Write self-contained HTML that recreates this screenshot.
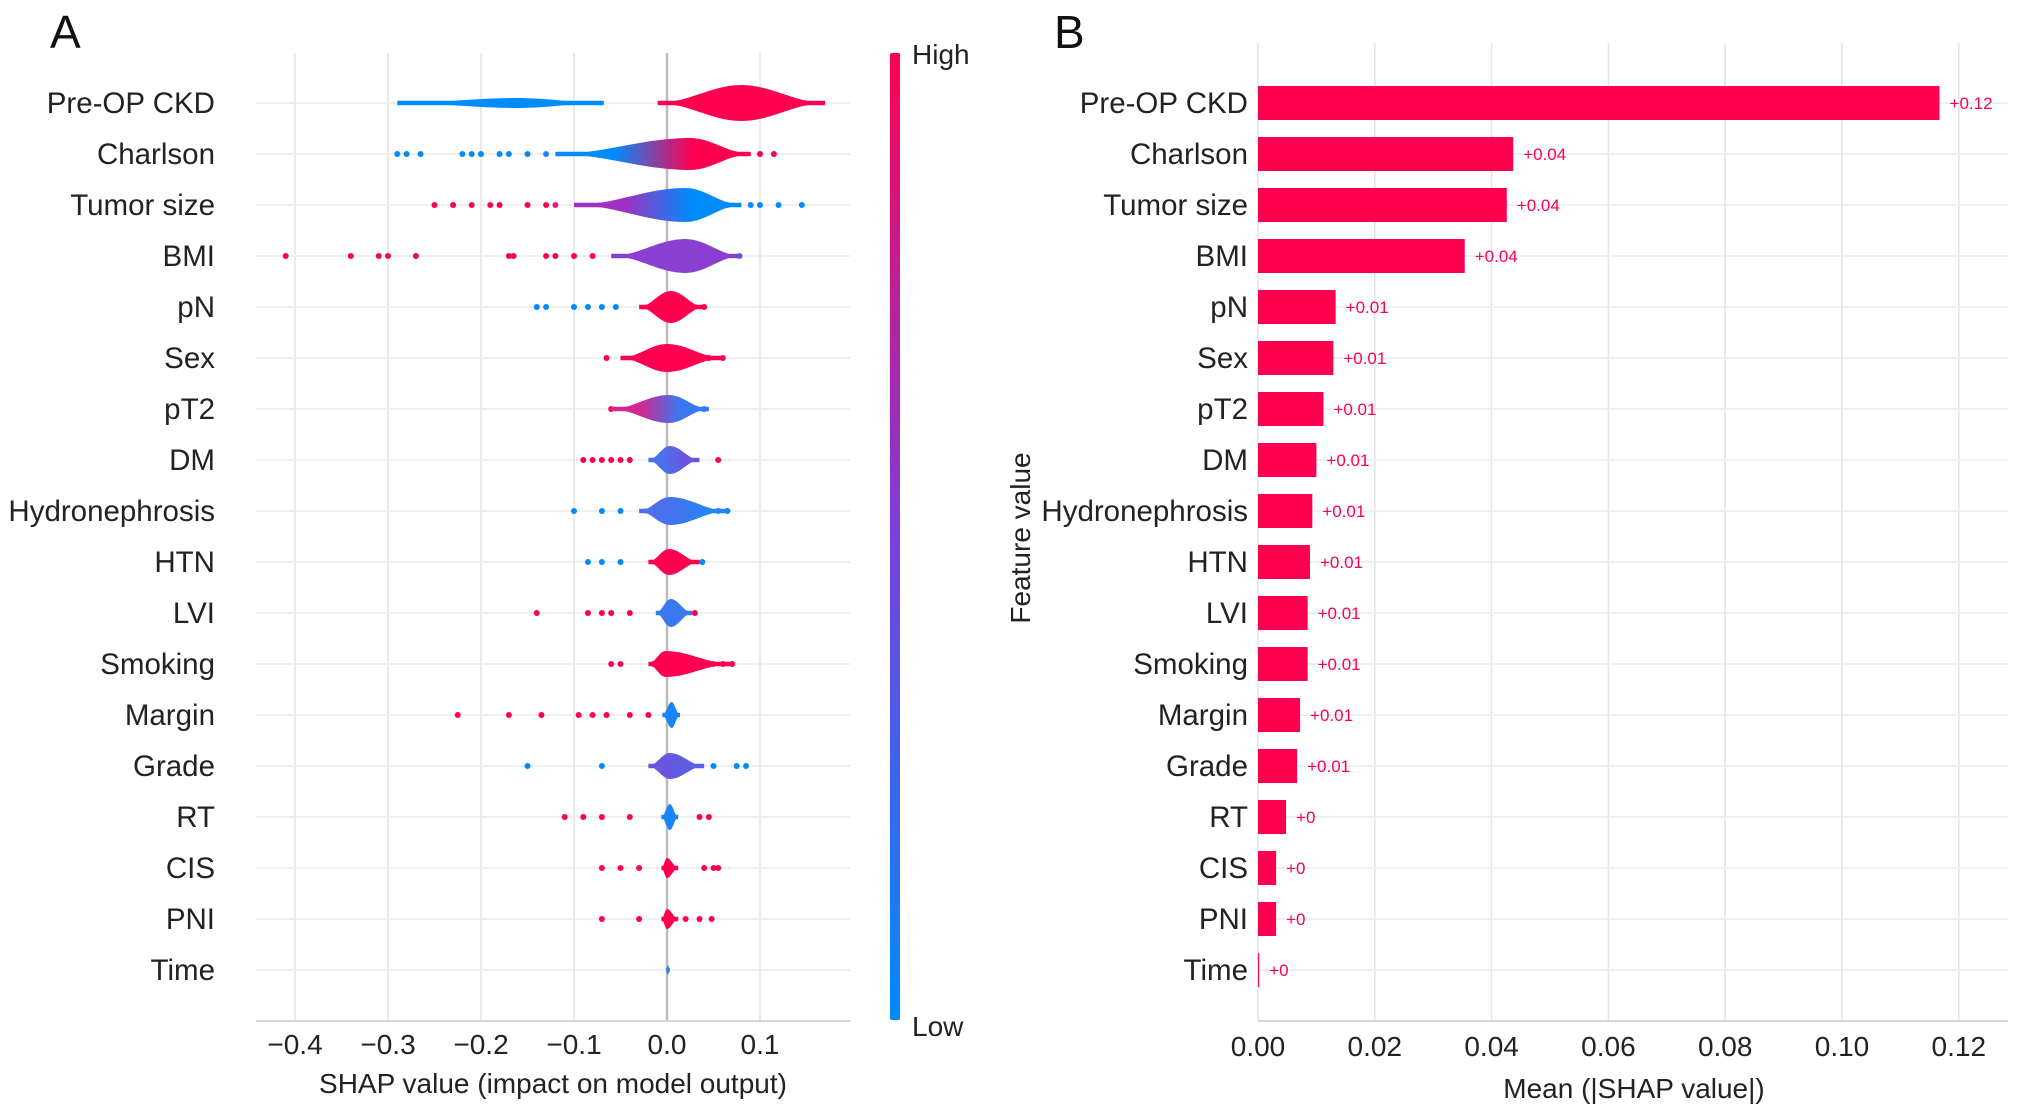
<!DOCTYPE html>
<html><head><meta charset="utf-8">
<style>
html,body{margin:0;padding:0;background:#fff;}
svg{display:block;font-family:"Liberation Sans",sans-serif;}
</style></head>
<body>
<svg id="fig" width="2032" height="1118" viewBox="0 0 2032 1118" xmlns="http://www.w3.org/2000/svg">
<defs>
<linearGradient id="cbar" x1="0" y1="1" x2="0" y2="0">
<stop offset="0" stop-color="#008bfb"/><stop offset="0.5" stop-color="#7a3fdc"/><stop offset="1" stop-color="#ff0051"/>
</linearGradient>
</defs>
<g id="panelA"></g>
<g id="panelB"></g>
</svg>
<script>
const features = ["Pre-OP CKD","Charlson","Tumor size","BMI","pN","Sex","pT2","DM","Hydronephrosis","HTN","LVI","Smoking","Margin","Grade","RT","CIS","PNI","Time"];
const violinLo   = [-0.01,-0.12,-0.10,-0.06,-0.03,-0.05,-0.06,-0.02,-0.03,-0.02,-0.012,-0.02,-0.005,-0.02,-0.006,-0.006,-0.006,-0.001];
const violinPeak = [0.08,0.025,0.02,0.02,0.004,0.0,0.002,0.003,0.003,0.002,0.004,-0.002,0.005,0.003,0.003,0.0,0.0,0.001];
const violinHi   = [0.17,0.09,0.08,0.08,0.04,0.06,0.045,0.035,0.065,0.035,0.027,0.07,0.014,0.04,0.012,0.012,0.012,0.003];
const violinDens = [18,16,17,17,16,14,14,14,14,13,14,13,13,13,13,10,10,5];
const violinColL = ["#ff0051","#008bfb","#a030c0","#8a3fd0","#ff0051","#ff0051","#d02890","#4a70ec","#4a70ec","#ff0051","#3a78f0","#ff0051","#1a85f8","#6a55de","#1a85f8","#ff0051","#ff0051","#3a78f0"];
const violinColR = ["#ff0051","#ff0051","#008bfb","#8a3fd0","#ff0051","#ff0051","#3a78f0","#6a55de","#2a80f5","#ff0051","#3a78f0","#ff0051","#1a85f8","#5a60e4","#1a85f8","#ff0051","#ff0051","#3a78f0"];
const ckdBlueLo = -0.29, ckdBluePeak = -0.16, ckdBlueHi = -0.068, ckdBlueDens = 5;
const dotFeature = [1,1,1,1,1,1,1,1,1,1,1,1, 2,2,2,2,2,2,2,2,2,2,2,2, 3,3,3,3,3,3,3,3,3,3,3,3, 4,4,4,4,4,4,4, 5,5,5,5, 6,6,6, 7,7,7,7,7,7,7, 8,8,8,8,8,8, 9,9,9,9, 10,10,10,10,10,10, 11,11,11,11,11, 12,12,12,12,12,12,12,12, 13,13,13,13,13, 14,14,14,14,14,14, 15,15,15,15,15,15, 16,16,16,16,16];
const dotValue = [-0.29,-0.28,-0.265,-0.22,-0.21,-0.2,-0.18,-0.17,-0.15,-0.13,0.1,0.115, -0.25,-0.23,-0.21,-0.19,-0.18,-0.15,-0.13,-0.12,0.09,0.1,0.12,0.145, -0.41,-0.34,-0.31,-0.3,-0.27,-0.17,-0.165,-0.13,-0.12,-0.1,-0.08,0.078, -0.14,-0.13,-0.1,-0.085,-0.07,-0.055,0.04, -0.065,0.035,0.045,0.06, -0.06,-0.04,0.04, -0.09,-0.08,-0.07,-0.06,-0.05,-0.04,0.055, -0.1,-0.07,-0.05,0.045,0.055,0.065, -0.085,-0.07,-0.05,0.038, -0.14,-0.085,-0.07,-0.06,-0.04,0.03, -0.06,-0.05,0.05,0.06,0.07, -0.225,-0.17,-0.135,-0.095,-0.08,-0.065,-0.04,-0.02, -0.15,-0.07,0.05,0.075,0.085, -0.11,-0.09,-0.07,-0.04,0.035,0.045, -0.07,-0.05,-0.03,0.04,0.05,0.055, -0.07,-0.03,0.02,0.035,0.048];
const dotColor = ["#008bfb","#008bfb","#008bfb","#008bfb","#008bfb","#008bfb","#008bfb","#008bfb","#008bfb","#2a7ef5","#ff0051","#ff0051", "#ff0051","#ff0051","#ff0051","#ff0051","#ff0051","#ff0051","#ff0051","#e0207a","#008bfb","#008bfb","#008bfb","#008bfb", "#ff0051","#ff0051","#ff0051","#ff0051","#ff0051","#ff0051","#ff0051","#ff0051","#ff0051","#ff0051","#ff0051","#008bfb", "#008bfb","#008bfb","#008bfb","#008bfb","#008bfb","#008bfb","#ff0051", "#ff0051","#ff0051","#ff0051","#ff0051", "#ff0051","#ff0051","#008bfb", "#ff0051","#ff0051","#ff0051","#ff0051","#ff0051","#ff0051","#ff0051", "#008bfb","#008bfb","#008bfb","#008bfb","#008bfb","#008bfb", "#008bfb","#008bfb","#008bfb","#008bfb", "#ff0051","#ff0051","#ff0051","#ff0051","#ff0051","#ff0051", "#ff0051","#ff0051","#ff0051","#ff0051","#ff0051", "#ff0051","#ff0051","#ff0051","#ff0051","#ff0051","#ff0051","#ff0051","#ff0051", "#008bfb","#008bfb","#008bfb","#008bfb","#008bfb", "#ff0051","#ff0051","#ff0051","#ff0051","#ff0051","#ff0051", "#ff0051","#ff0051","#ff0051","#ff0051","#ff0051","#ff0051", "#ff0051","#ff0051","#ff0051","#ff0051","#ff0051"];
const aTicks = [-0.4,-0.3,-0.2,-0.1,0.0,0.1];
const aTickLabels = ["\u22120.4","\u22120.3","\u22120.2","\u22120.1","0.0","0.1"];
const meanShap = [0.1167,0.0437,0.0426,0.0354,0.0133,0.0129,0.0112,0.0100,0.0093,0.0089,0.0085,0.0085,0.0072,0.0067,0.0048,0.0031,0.0031,0.0002];
const meanLabels = ["+0.12","+0.04","+0.04","+0.04","+0.01","+0.01","+0.01","+0.01","+0.01","+0.01","+0.01","+0.01","+0.01","+0.01","+0","+0","+0","+0"];
const bTicks = [0,0.02,0.04,0.06,0.08,0.10,0.12];
const bTickLabels = ["0.00","0.02","0.04","0.06","0.08","0.10","0.12"];

const NS="http://www.w3.org/2000/svg";
function mk(parent,tag,attrs,text){const e=document.createElementNS(NS,tag);for(const k in attrs)e.setAttribute(k,attrs[k]);if(text!==undefined)e.textContent=text;parent.appendChild(e);return e;}
const rowY = i => 103 + i*51;
const LFS = 29.5;

const A=document.getElementById('panelA');
const xA = v => 667 + v*930;
const aLeft=256, aRight=850, aTop=53, aBottom=1021;
let t=mk(A,'text',{x:50,y:48,'font-size':46,fill:'#111'},'A');


aTicks.forEach((v,i)=>{
  const l=mk(A,'line',{x1:xA(v),x2:xA(v),y1:aTop,y2:aBottom,stroke:v===0?'#bbb':'#e4e4e4','stroke-width':v===0?2.5:1.5});
  
  
  const tl=mk(A,'text',{x:xA(v),y:1054,'font-size':28,'text-anchor':'middle',fill:'#222'},aTickLabels[i]);
  
  
});
const ax=mk(A,'line',{x1:aLeft,x2:aRight,y1:aBottom,y2:aBottom,stroke:'#ccc','stroke-width':1.5});


t=mk(A,'text',{x:553,y:1093,'font-size':28,'text-anchor':'middle',fill:'#222'},'SHAP value (impact on model output)');



function violinPath(lo,pk,hi,h,y){
  const pts=[],N=30;
  const shape=(x)=>{let u;if(x<=pk){u=(x-lo)/Math.max(pk-lo,1e-6);}else{u=(hi-x)/Math.max(hi-pk,1e-6);}u=Math.max(0,Math.min(1,u));return h*(0.5-0.5*Math.cos(Math.PI*u));};
  for(let k=0;k<=N;k++){const x=lo+(hi-lo)*k/N;pts.push([xA(x),y-Math.max(2.2,shape(x))]);}
  for(let k=N;k>=0;k--){const x=lo+(hi-lo)*k/N;pts.push([xA(x),y+Math.max(2.2,shape(x))]);}
  return 'M'+pts.map(p=>p[0].toFixed(1)+','+p[1].toFixed(1)).join('L')+'Z';
}
const defs=document.querySelector('defs');
features.forEach((f,i)=>{
  const y=rowY(i);
  const g=mk(A,'line',{x1:aLeft,x2:aRight,y1:y,y2:y,stroke:'#ececec','stroke-width':1.5});
  
  
  const lb=mk(A,'text',{x:215,y:y+10,'font-size':LFS,'text-anchor':'end',fill:'#222'},f);
  
  
});
dotValue.forEach((v,k)=>{
  const c=mk(A,'circle',{cx:xA(v),cy:rowY(dotFeature[k]),r:3,fill:dotColor[k]});
  
  
});
let vb=mk(A,'path',{d:violinPath(ckdBlueLo,ckdBluePeak,ckdBlueHi,ckdBlueDens,rowY(0)),fill:'#008bfb'});


features.forEach((f,i)=>{
  const gid='vg'+i;
  const lg=mk(defs,'linearGradient',{id:gid,x1:xA(violinLo[i]),x2:xA(violinHi[i]),y1:0,y2:0,gradientUnits:'userSpaceOnUse'});
  mk(lg,'stop',{offset:0.3,'stop-color':violinColL[i]});
  mk(lg,'stop',{offset:0.7,'stop-color':violinColR[i]});
  const p=mk(A,'path',{d:violinPath(violinLo[i],violinPeak[i],violinHi[i],violinDens[i],rowY(i)),fill:'url(#'+gid+')'});
  
  
});
let cb=mk(A,'rect',{x:890,y:53,width:10,height:967,fill:'url(#cbar)',rx:2});


t=mk(A,'text',{x:912,y:64,'font-size':28,fill:'#222'},'High');


t=mk(A,'text',{x:912,y:1036,'font-size':28,fill:'#222'},'Low');


t=mk(A,'text',{x:1030,y:538,'font-size':28,fill:'#222','text-anchor':'middle',transform:'rotate(-90 1030 538)'},'Feature value');



const B=document.getElementById('panelB');
const xB = v => 1258 + v*5840;
const bTop=43, bBottom=1021, bRight=2008;
t=mk(B,'text',{x:1054,y:48,'font-size':46,fill:'#111'},'B');


bTicks.forEach((v,i)=>{
  const l=mk(B,'line',{x1:xB(v),x2:xB(v),y1:bTop,y2:bBottom,stroke:'#e4e4e4','stroke-width':1.5});
  
  
  const tl=mk(B,'text',{x:xB(v),y:1056,'font-size':28,'text-anchor':'middle',fill:'#222'},bTickLabels[i]);
  
  
});
t=mk(B,'line',{x1:1258,x2:bRight,y1:bBottom,y2:bBottom,stroke:'#ccc','stroke-width':1.5});


t=mk(B,'text',{x:1634,y:1098,'font-size':28,'text-anchor':'middle',fill:'#222'},'Mean (|SHAP value|)');


features.forEach((f,i)=>{
  const y=rowY(i);
  const g=mk(B,'line',{x1:1258,x2:bRight,y1:y,y2:y,stroke:'#ececec','stroke-width':1.5});
  
  
  const lb=mk(B,'text',{x:1248,y:y+10,'font-size':LFS,'text-anchor':'end',fill:'#222'},f);
  
  
  const r=mk(B,'rect',{x:xB(0),y:y-17,width:Math.max(0,xB(meanShap[i])-xB(0)),height:34,fill:'#ff0051'});
  
  
  const vl=mk(B,'text',{x:xB(meanShap[i])+10,y:y+6,'font-size':17,fill:'#ff0051'},meanLabels[i]);
  
  
});
</script>
</body></html>
